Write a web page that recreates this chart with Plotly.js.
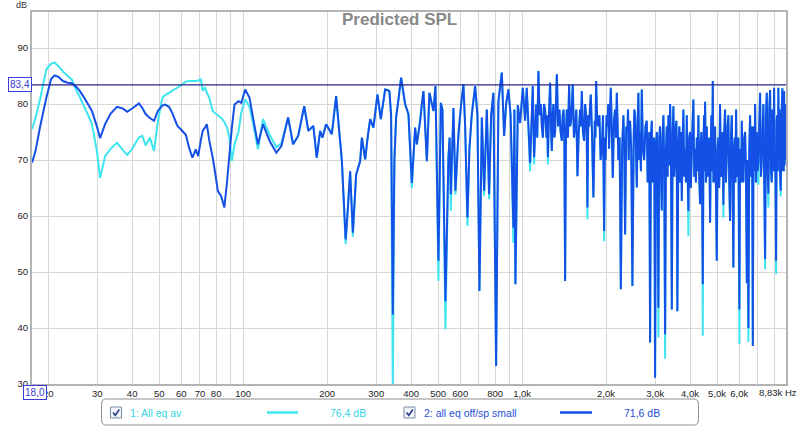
<!DOCTYPE html>
<html><head><meta charset="utf-8">
<script src="https://cdn.plot.ly/plotly-3.0.1.min.js"></script>
<style>html,body{margin:0;padding:0;background:#fff;}#chart{width:800px;height:427px;}</style>
</head><body><div id="chart"></div>
<script>
// ---- data ----
const freqHz = [17.5,18,18.7,19.7,20.5,21.1,21.7,22.6,23.5,24.3,25.3,26.0,26.7,27.7,28.7,29.9,30.7,32.0,33.5,35.3,37,38.4,40,42.3,43.5,44.7,46.3,47.9,49.5,51.3,52.5,54.2,55.7,58.1,60,62.3,64,65.8,67.6,69,70.5,71.6,73,74.1,75.6,77.8,79.5,81.1,83.5,85.6,87.5,89.3,91,93.1,96.2,98.5,101.7,105.4,109,113,117.8,124.4,131.5,137.1,144.9,151,157.5,165.5,171.3,178.5,183.5,
188.8,192.4,198.4,207.9,215.4,225.9,233,235.3,241.8,247.3,254.1,262.7,266.4,273.7,279.4,285.3,293.1,303,311.5,322.8,328.1,334.4,339.1,343.9,348.5,353.4,360.8,368.3,380.7,391.3,402.4,413.5,419.4,431,437.1,442.9,455.5,465.3,481,489,501.2,511.2,518,531,544.3,549.7,555.2,567.3,576.7,591.2,604.6,616.1,624.8,636.7,647.3,660.3,678.5,691.6,703.1,717.2,730.9,747.4,761.6,774.3,789,806.8,822.3,845.6,861.9,876.3,893,909.4,930.7,938.4,946.2,965.2,983.6,1005.8,1025,1039,1068,1092,1104,
1123,1133,1144,1155,1167,1177,1187,1198,1209,1222,1230,1237,1248,1260,1269,1278,1286,1295,1304,1313,1322,1332,1346,1361,1374,1388,1398,1408,1417,1426,1436,1446,1460,1474,1486,1498,1509,1519,1534,1549,1564,1579,1596,1614,1625,1637,1652,1668,1682,1696,1705,1714,1726,1738,1750,1763,1782,1801,1822,1832,1842,1858,1873,1893,1912,1931,1950,1968,1980,1992,2007,2022,2036,2050,2065,2079,2097,2114,2134,2154,2170,2185,2200,2214,2236,2259,2283,2307,2323,2340,2362,2385,2397,2410,2424,2438,2461,2485,2512,2526,2541,2559,2577,
2594,2611,2630,2648,2666,2685,2711,2737,2768,2799,2818,2836,2856,2876,2896,2917,2936,2955,2976,2997,3018,3040,3060,3080,3101,3123,3145,3167,3188,3210,3232,3255,3278,3301,3323,3345,3369,3393,3417,3441,3463,3486,3510,3535,3554,3573,3588,3602,3632,3663,3681,3699,3717,3736,3760,3785,3812,3839,3866,3893,3919,3945,3973,4001,4025,4050,4080,4111,4140,4169,4198,4228,4256,4284,4314,4345,4368,4392,4417,4443,4466,4490,4509,4528,4560,4592,4622,4653,4686,4719,4744,4770,4797,4825,4851,4877,4897,4917,4952,4987,5020,5053,5088,5124,5160,5197,5231,5266,5303,5340,5378,5416,5451,5487,5526,5565,5604,5644,5681,5719,5752,5786,5817,5848,5880,5911,5960,6010,6040,6070,6100,6131,6171,6212,6256,6300,6345,6390,6432,6474,6520,6566,6601,6637,6675,6714,6750,6786,6814,6842,6890,6939,6985,7031,7080,7129,7180,7230,7278,7327,7378,7430,7483,7536,7586,7636,7690,7743,7798,7853,7895,7937,7970,8003,8036,8069,8102,8136,8176,8217,8254,8291,8332,8373,8414,8456,8513,8570,8605,8641,8666,8691,8728,8764,8797,8830];

// 1: All eq av (cyan)
const allEqAv = [75.5,77.5,80.8,86.2,87.2,87.4,86.8,85.8,85.0,84.4,82.3,81.2,79.9,78.2,76.4,71.6,66.8,70.7,72.0,73.1,71.8,70.9,72.0,74.0,74.3,72.6,74.0,71.6,77.0,81.1,81.6,82.0,82.4,82.9,83.4,84.0,84.1,84.1,84.1,84.2,84.4,82.4,83.0,82.0,81.1,78.75,78.3,78.0,77.5,76.8,75.8,74.0,69.8,72.8,75.0,78.5,80.8,79.5,76,71.9,77.3,74.5,72.3,73.0,77.6,72.8,74.3,79.6,75.2,76.1,70.4,
75.2,74.0,76.4,74.6,81.4,69.8,55.0,58.5,68.0,56.3,67.4,69.8,74.0,70.1,74,77.3,75.8,81.7,77.3,82.6,82.5,82.3,78,29,70,77.6,81,84.7,80,78.2,65.0,75.8,72.8,77.0,80,82.3,69.8,82.0,78.75,83.2,48.4,80.2,79,39.8,70.4,74,60.9,79.3,63.8,74.6,80,83.5,76,58.2,72,78.2,83.2,78,46.6,77.6,63.6,79.0,63.0,78,82.0,33.2,80.5,85.6,74.3,80,82.6,78,55.2,79,47.8,79.8,76.6,82.9,77,82.9,68.0,83.2,69.2,
79.9,74,85.9,78,80,76,74.0,80,79,74,78,69.2,78,83.8,76,71.6,78,80,74,75,80,85.3,76,79,75,73.4,78,79,74,48.4,75,79,74,83.5,76,77,80,83.5,74,76,79,67.1,75,79,76,82.3,75,73.4,80,78,74,59.4,78,76,79,81.7,74,63.3,77,74,84.1,77,76,78,70,72,78,55.5,74,70,78,76,80,72,78,82.9,75,66.8,77,79,74,82,76,70,74,46.9,72,78,72,56.7,76,75,79,70,76,77,72,47.5,74,79,78,72,65.1,
76,82.0,70,75,68,82.6,72,70,76,77,66,68,75,37.4,74,77,66,70,74,31.1,72,75,67,38.3,74,76,68,61,74,78,68,34.5,72,76,67,78,69,80,70,43.3,74,79.6,67,70,76,77,66,43.0,73,76,66,70,75,62.7,73,79,67,72,66,78,68,56.4,74,75,65,70,76,80.8,67,72,66,74,68,78,67,62.1,73,75,66,38.6,72,78,68,80.4,66,76,67,70,74,58.8,72,78,68,84.1,66,72,66,76,65,52.0,72,74,65,80,67,68,75,59.7,75,79,66,71,76,78,66,59.1,74,78,67,50.8,72,74,66,79,67,68,74,37.1,70,72,66,77,68,66,74,75,68,48,70,37.5,72,78,67,70,76,36.8,73,76,68,80,66,75,68,65.6,
76,82,67,70,75,80,66,50.5,78,82,68,61.5,79,82.5,68,66,79,78,68,82.9,70,72,66,49.6,77,78,68,82.9,70,79,67,63.5,78,82.8,68,76,68,82.3,69,80,70,79];

// 2: all eq off/sp small (blue)
const allEqOffSpSmall = [69.5,71.5,75.9,81.1,84.5,85.1,84.9,84.1,83.8,83.7,83.0,82.3,81.4,80.1,78.75,76.0,73.9,76.4,78.3,79.5,79.2,78.6,79.2,80.1,79.3,78.2,77.5,77.0,78.8,79.7,79.9,79.5,78.4,76.1,75.4,74.5,72.2,70.4,71.9,70.7,73.5,75.2,75.8,76.4,73.5,70.4,67.5,64.5,63.5,61.5,66,71.0,75.5,79.9,80.5,80.2,82.6,81.1,77,72.8,76.4,73.4,71.3,72.5,77.6,72.8,74.3,79.6,75.2,76.1,70.4,
75.2,74.0,76.4,74.6,81.4,69.8,55.8,58.5,68.0,57.0,67.4,69.8,74.0,70.1,74,77.3,75.8,81.7,77.3,82.6,82.5,82.3,78,42.4,70,77.6,81,84.7,80,78.2,65.9,75.8,72.8,77.0,80,82.3,69.8,82.0,78.75,83.2,52.0,80.2,79,44.8,70.4,74,63.9,79.3,64.5,74.6,80,83.5,76,59.7,72,78.2,83.2,78,46.6,77.6,64.5,79.0,63.9,78,82.0,33.2,80.5,85.6,74.3,80,82.6,78,57.9,79,47.8,79.8,76.6,82.9,77,82.9,69.5,83.2,70.5,
79.9,74,85.9,78,80,76,74.0,80,79,74,78,70.5,78,83.8,76,71.6,78,80,74,75,80,85.3,76,79,75,73.4,78,79,74,48.4,75,79,74,83.5,76,77,80,83.5,74,76,79,67.1,75,79,76,82.3,75,73.4,80,78,74,61.5,78,76,79,81.7,74,63.3,77,74,84.1,77,76,78,70,72,78,57.3,74,70,78,76,80,72,78,82.9,75,66.8,77,79,74,82,76,70,74,46.9,72,78,72,56.7,76,75,79,70,76,77,72,47.5,74,79,78,72,65.1,
76,82.0,70,75,68,82.6,72,70,76,77,66,68,75,37.4,74,77,66,70,74,31.1,72,75,67,43.6,74,76,68,61,74,78,68,38.9,72,76,67,78,69,80,70,43.3,74,79.6,67,70,76,77,66,43.0,73,76,66,70,75,62.7,73,79,67,72,66,78,68,60.9,74,75,65,70,76,80.8,67,72,66,74,68,78,67,62.1,73,75,66,47.8,72,78,68,80.4,66,76,67,70,74,58.8,72,78,68,84.1,66,72,66,76,65,52.0,72,74,65,80,67,68,75,62,75,79,66,71,76,78,66,59.1,74,78,67,50.8,72,74,66,79,67,68,74,43.3,70,72,66,77,68,66,74,75,68,48,70,40,72,78,67,70,76,36.8,73,76,68,80,66,75,68,69.8,
76,82,67,70,75,80,66,52.3,78,82,68,64,79,82.5,68,66,79,78,68,82.9,70,72,66,52,77,78,68,82.9,70,79,67,64.5,78,82.8,68,76,68,82.3,69,80,70,79];

const seriesNames = ['1: All eq av', '2: all eq off/sp small'];
const seriesLevels = ['76,4 dB', '71,6 dB'];
const tickHz = [20,30,40,50,60,70,80,90,100,200,300,400,500,600,700,800,900,1000,2000,3000,4000,5000,6000,7000,8000];
const tickText = ['20','30','40','50','60','70','80','','100','200','300','400','500','600','','800','','1,0k','2,0k','3,0k','4,0k','5,0k','6,0k','',''];
const dbTicks = [30,40,50,60,70,80,90];
const cursorHz = 18.0, cursorDb = 83.4;
const xStartHz = 17.5, xEndHz = 8830;

// ---- layout helpers (pixel -> paper) ----
const W = 800, H = 427, ML = 32, MR = 14, MT = 12, MB = 43;
const PW = W - ML - MR, PH = H - MT - MB;
const px = x => (x - ML) / PW;
const py = y => 1 - (y - MT) / PH;

const cyan = '#3ee4ee', blue = '#1550e6';
const font = 'Liberation Sans, Arial, sans-serif';

const traces = [
  {x: freqHz, y: allEqAv, type: 'scatter', mode: 'lines', line: {color: cyan, width: 2, simplify: false}, hoverinfo: 'skip', showlegend: false, name: seriesNames[0]},
  {x: freqHz, y: allEqOffSpSmall, type: 'scatter', mode: 'lines', line: {color: blue, width: 2, simplify: false}, hoverinfo: 'skip', showlegend: false, name: seriesNames[1]}
];

function roundRect(x0, y0, x1, y1, r) {
  const X = v => px(v), Y = v => py(v);
  return `M ${X(x0+r)} ${Y(y0)} L ${X(x1-r)} ${Y(y0)} Q ${X(x1)} ${Y(y0)} ${X(x1)} ${Y(y0+r)} L ${X(x1)} ${Y(y1-r)} Q ${X(x1)} ${Y(y1)} ${X(x1-r)} ${Y(y1)} L ${X(x0+r)} ${Y(y1)} Q ${X(x0)} ${Y(y1)} ${X(x0)} ${Y(y1-r)} L ${X(x0)} ${Y(y0+r)} Q ${X(x0)} ${Y(y0)} ${X(x0+r)} ${Y(y0)} Z`;
}
function checkbox(x, y) {
  return [
    {type: 'rect', xref: 'paper', yref: 'paper', x0: px(x), x1: px(x+11), y0: py(y), y1: py(y+11), line: {color: '#7d8ca6', width: 1}, fillcolor: '#f3f5fa'},
    {type: 'path', xref: 'paper', yref: 'paper', path: `M ${px(x+2.5)} ${py(y+5.5)} L ${px(x+4.8)} ${py(y+8.3)} L ${px(x+8.8)} ${py(y+2.5)}`, line: {color: '#2d3f86', width: 1.6}}
  ];
}

const legY = 412.5;
const shapes = [
  {type: 'line', xref: 'paper', yref: 'y', x0: 0, x1: 1, y0: cursorDb, y1: cursorDb, line: {color: '#25258c', width: 1.2}},
  {type: 'line', xref: 'x', yref: 'paper', x0: Math.log10(cursorHz), x1: Math.log10(cursorHz), y0: py(387), y1: 1, line: {color: '#3b3bd6', width: 1.2}},
  {type: 'path', xref: 'paper', yref: 'paper', path: roundRect(101.5, 399, 698.5, 425, 5), line: {color: '#8e8e8e', width: 1}, fillcolor: 'rgba(0,0,0,0)'},
  ...checkbox(110.5, 407),
  ...checkbox(404, 407),
  {type: 'line', xref: 'paper', yref: 'paper', x0: px(267), x1: px(298), y0: py(legY), y1: py(legY), line: {color: cyan, width: 2.5}},
  {type: 'line', xref: 'paper', yref: 'paper', x0: px(560), x1: px(592), y0: py(legY), y1: py(legY), line: {color: blue, width: 2.5}}
];

const annotations = [
  {xref: 'paper', yref: 'paper', x: px(399), y: py(20), text: '<b>Predicted SPL</b>', showarrow: false, xanchor: 'center', yanchor: 'middle', font: {family: font, size: 17, color: '#888888'}},
  {xref: 'paper', yref: 'paper', x: px(21.5), y: py(5), text: 'dB', showarrow: false, xanchor: 'center', yanchor: 'middle', font: {family: font, size: 9, color: '#333'}},
  {xref: 'paper', yref: 'paper', x: px(799), y: py(392), text: '8,83k Hz', showarrow: false, xanchor: 'right', yanchor: 'middle', font: {family: font, size: 9.5, color: '#222'}},
  {xref: 'paper', yref: 'y', x: px(19.5), y: cursorDb, text: '83,4', showarrow: false, xanchor: 'center', yanchor: 'middle', bgcolor: '#ffffff', bordercolor: '#3b3bd6', borderwidth: 1, borderpad: 1, font: {family: font, size: 10, color: '#3b3bd6'}},
  {xref: 'x', yref: 'paper', x: Math.log10(cursorHz), y: py(392), text: '18,0', showarrow: false, xanchor: 'center', yanchor: 'middle', bgcolor: '#ffffff', bordercolor: '#3b3bd6', borderwidth: 1, borderpad: 1, font: {family: font, size: 10, color: '#3b3bd6'}},
  {xref: 'paper', yref: 'paper', x: px(128), y: py(legY), text: seriesNames[0], showarrow: false, xanchor: 'left', yanchor: 'middle', font: {family: font, size: 10.5, color: '#33d4e4'}},
  {xref: 'paper', yref: 'paper', x: px(328), y: py(legY), text: seriesLevels[0], showarrow: false, xanchor: 'left', yanchor: 'middle', font: {family: font, size: 10.5, color: '#33d4e4'}},
  {xref: 'paper', yref: 'paper', x: px(421.5), y: py(legY), text: seriesNames[1], showarrow: false, xanchor: 'left', yanchor: 'middle', font: {family: font, size: 10.5, color: '#1f4fd8'}},
  {xref: 'paper', yref: 'paper', x: px(621.5), y: py(legY), text: seriesLevels[1], showarrow: false, xanchor: 'left', yanchor: 'middle', font: {family: font, size: 10.5, color: '#1f4fd8'}}
];

const layout = {
  width: W, height: H,
  margin: {l: ML, r: MR, t: MT, b: MB, pad: 0},
  paper_bgcolor: '#ffffff', plot_bgcolor: '#ffffff',
  showlegend: false,
  xaxis: {type: 'log', range: [Math.log10(xStartHz), Math.log10(xEndHz)], tickmode: 'array', tickvals: tickHz, ticktext: tickText,
          showgrid: true, gridcolor: '#d6d6d6', gridwidth: 1, showline: true, mirror: true, linecolor: '#b3b3b3', linewidth: 2,
          ticks: '', zeroline: false, tickfont: {family: font, size: 9.5, color: '#222'}, fixedrange: true},
  yaxis: {range: [30, 30 + PH / 5.6], tickmode: 'array', tickvals: dbTicks, ticktext: dbTicks.map(String),
          showgrid: true, gridcolor: '#d6d6d6', gridwidth: 1, showline: true, mirror: true, linecolor: '#b3b3b3', linewidth: 2,
          ticks: '', zeroline: false, tickfont: {family: font, size: 9.5, color: '#222'}, fixedrange: true},
  shapes: shapes,
  annotations: annotations
};

Plotly.newPlot('chart', traces, layout, {displayModeBar: false, staticPlot: true});
</script>
</body></html>
